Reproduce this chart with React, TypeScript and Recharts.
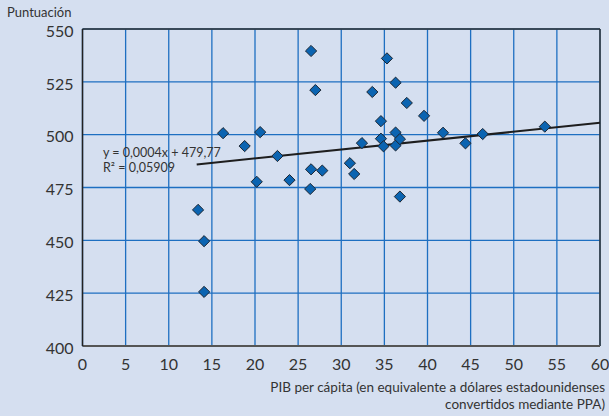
import {
  ScatterChart,
  Scatter,
  XAxis,
  YAxis,
  CartesianGrid,
  ReferenceLine,
} from "recharts";

// PIB per cápita (miles USD PPA) y puntuación
const gdp = [
  13.4, 14.1, 14.1, 16.3, 18.8, 20.2, 20.6, 22.6, 24.0, 26.4, 26.5, 26.5,
  27.0, 27.8, 31.0, 31.5, 32.4, 33.6, 34.6, 34.6, 34.9, 35.3, 36.3, 36.3,
  36.3, 36.8, 36.8, 37.6, 39.6, 41.8, 44.4, 46.4, 53.6,
];
const score = [
  464.4, 449.6, 425.6, 500.7, 494.6, 477.7, 501.2, 489.9, 478.5, 474.3, 483.6,
  539.6, 521.1, 483.0, 486.5, 481.4, 496.0, 520.2, 506.4, 498.1, 494.5, 536.1,
  524.6, 501.0, 494.9, 497.9, 470.7, 515.0, 508.9, 500.9, 495.9, 500.3, 503.8,
];

// extremos de la recta de tendencia
const trendX = [13.24, 60];
const trendY = [485.9, 505.6];

const xTicks = [0, 5, 10, 15, 20, 25, 30, 35, 40, 45, 50, 55, 60];
const yTicks = [400, 425, 450, 475, 500, 525, 550];

const points = gdp.map((x, i) => ({ x, y: score[i] }));

const FONT = "Lato, 'Open Sans', sans-serif";
const BG = "#d5dff0";

const Diamond = (props: any) => {
  const { cx, cy } = props;
  const r = 5.6;
  return (
    <path
      d={`M${cx},${cy - r} L${cx + r},${cy} L${cx},${cy + r} L${cx - r},${cy} Z`}
      fill="#0b64b1"
      stroke="#1c2633"
      strokeWidth={1}
    />
  );
};

export default function App() {
  return (
    <div
      style={{
        position: "absolute",
        left: 0,
        top: 0,
        width: 609,
        height: 416,
        background: BG,
        fontFamily: FONT,
      }}
    >
      <div
        style={{
          position: "absolute",
          left: 7,
          top: 4,
          fontSize: 13,
          color: "#333",
        }}
      >
        Puntuación
      </div>
      <ScatterChart
        width={609}
        height={416}
        margin={{ top: 29, right: 9, bottom: 40, left: 0 }}
      >
        <CartesianGrid
          stroke="#1e6fc1"
          strokeWidth={1.3}
          horizontalValues={yTicks}
          verticalValues={xTicks}
        />
        <XAxis
          type="number"
          dataKey="x"
          domain={[0, 60]}
          ticks={xTicks}
          interval={0}
          height={30}
          tickLine={false}
          tickSize={0}
          tickMargin={13}
          axisLine={{ stroke: "#555", strokeWidth: 2 }}
          tick={{ fill: "#333", fontSize: 16, fontFamily: FONT }}
        />
        <YAxis
          type="number"
          dataKey="y"
          domain={[400, 550]}
          ticks={yTicks}
          interval={0}
          width={82.5}
          tickLine={false}
          tickSize={0}
          tickMargin={9}
          axisLine={{ stroke: "#222", strokeWidth: 1.5 }}
          tick={{ fill: "#333", fontSize: 16, fontFamily: FONT, dy: 2 }}
        />
        <ReferenceLine
          x={60}
          stroke="#333"
          strokeWidth={1.5}
          ifOverflow="visible"
        />
        <ReferenceLine
          y={550}
          stroke="#333"
          strokeWidth={1.5}
          ifOverflow="visible"
        />
        <ReferenceLine
          segment={[
            { x: trendX[0], y: trendY[0] },
            { x: trendX[1], y: trendY[1] },
          ]}
          stroke="#1e1e1e"
          strokeWidth={2}
          ifOverflow="visible"
        />
        <Scatter
          data={points}
          shape={Diamond}
          isAnimationActive={false}
        />
      </ScatterChart>
      <div
        style={{
          position: "absolute",
          left: 103,
          top: 144.5,
          fontSize: 12.5,
          lineHeight: "15px",
          color: "#333",
        }}
      >
        <div>y = 0,0004x + 479,77</div>
        <div>R² = 0,05909</div>
      </div>
      <div
        style={{
          position: "absolute",
          right: 4,
          top: 378.5,
          fontSize: 13.5,
          lineHeight: "17.5px",
          color: "#333",
          textAlign: "right",
          whiteSpace: "nowrap",
        }}
      >
        <div>PIB per cápita (en equivalente a dólares estadounidenses</div>
        <div>convertidos mediante PPA)</div>
      </div>
    </div>
  );
}
